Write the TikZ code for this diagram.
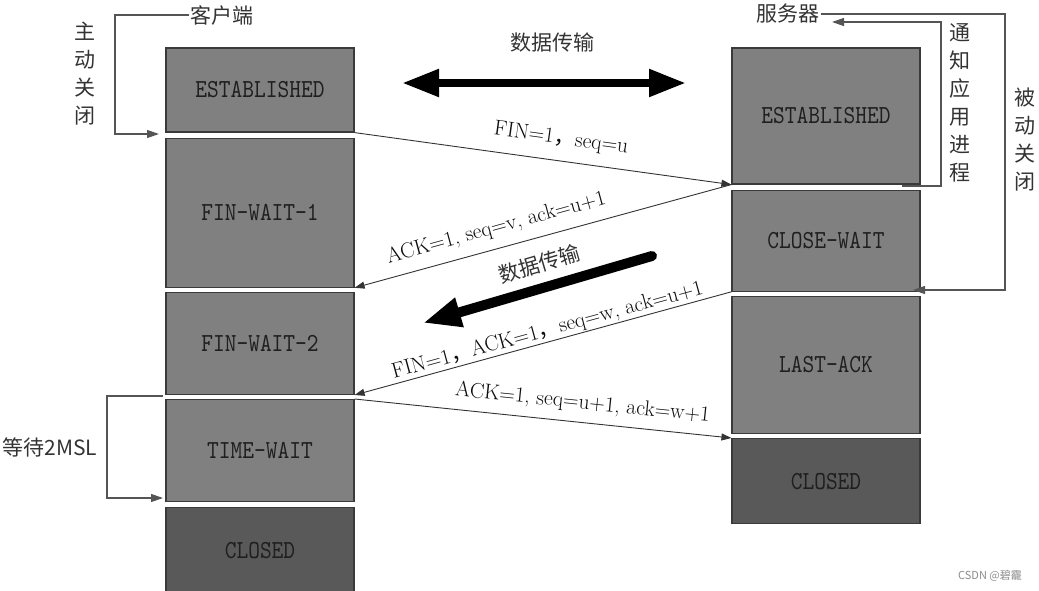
\documentclass[tikz,border=0pt]{standalone}
\usepackage{fontspec}
\newfontfamily\cjk{Noto Sans CJK SC}
\newfontfamily\boxfont[FakeStretch=0.86]{lmmono10-regular.otf}
\usetikzlibrary{arrows.meta, positioning}
\definecolor{boxgray}{HTML}{808080}
\definecolor{closedgray}{HTML}{595959}
\definecolor{edgegray}{HTML}{3A3A3A}
\definecolor{linegray}{HTML}{555555}
\newcommand{\fwc}{{\cjk ，}}
\tikzset{
    state/.style={draw=edgegray, line width=1.2pt, fill=boxgray, minimum width=188pt, inner sep=0pt,
        font=\boxfont\fontsize{26}{26}\selectfont, text=black!88},
    closed/.style={fill=closedgray},
    zh/.style={font=\cjk\fontsize{21}{28}\selectfont, text=black!80, inner sep=1pt, align=center},
    lab/.style={sloped, font=\fontsize{21.5}{24}\selectfont, text=black!95, inner sep=1pt},
    msg/.style={draw=black!80, line width=0.9pt, -{Triangle[length=10pt,width=7pt]}},
    sideline/.style={draw=linegray, line width=1.2pt},
    sidearrow/.style={sideline, -{Triangle[length=12pt,width=8pt]}},
    bigarrow/.style={draw=black, line width=8pt},
}

\begin{document}
\begin{tikzpicture}[x=1pt, y=-1pt]
        \useasboundingbox (0,0) rectangle (1039,591);
        \node[state, minimum height=84pt] (ce) at (260,90) {ESTABLISHED};
        \node[state, minimum height=149pt, below=5pt of ce] (cf1) {FIN-WAIT-1};
        \node[state, minimum height=102pt, below=4pt of cf1] (cf2) {FIN-WAIT-2};
        \node[state, minimum height=102pt, below=4pt of cf2] (ct) {TIME-WAIT};
        \node[state, closed, minimum height=85pt, below=5pt of ct] (cc) {CLOSED};
        \node[state, minimum height=136pt] (se) at (826,116) {ESTABLISHED};
        \node[state, minimum height=101pt, below=5pt of se] (sw) {CLOSE-WAIT};
        \node[state, minimum height=137pt, below=4pt of sw] (sl) {LAST-ACK};
        \node[state, closed, minimum height=85pt, below=4pt of sl] (sc) {CLOSED};

        \node[zh] (client) at (222,15) {客户端};
        \node[zh] (server) at (788,14) {服务器};
        \node[zh] (active) at (85,74) {主\\动\\关\\闭};
        \node[zh] (notify) at (960,103) {通\\知\\应\\用\\进\\程};
        \node[zh] (passive) at (1025,140) {被\\动\\关\\闭};
        \node[zh] (wait) at (50,447) {等待2MSL};
        \node[zh] (data) at (552,43) {数据传输};
        \node[zh, rotate=16.5] (data2) at (539,264) {数据传输};

        \coordinate (a1) at (115,134);
        \coordinate (a2) at (159,134);
        \draw[sidearrow] (client.west) -| (a1) -- (a2);
        \coordinate (b1) at (1005,290);
        \coordinate (b2) at (913,290);
        \draw[sidearrow] (server.east) -| (b1) -- (b2);
        \coordinate (n0) at (902,186);
        \coordinate (n1) at (941,22);
        \coordinate (n2) at (832,22);
        \draw[sidearrow] (n0) -| (n1) -- (n2);
        \coordinate (w0) at (163,396);
        \coordinate (w1) at (107,498);
        \coordinate (w2) at (163,498);
        \draw[sidearrow] (w0) -| (w1) -- (w2);

        \coordinate (t1) at (402,83);
        \coordinate (t2) at (686,83);
        \draw[bigarrow, {Triangle[length=37pt,width=26pt]}-{Triangle[length=37pt,width=26pt]}] (t1) -- (t2);
        \coordinate (d1) at (652,256);
        \coordinate (d2) at (423,323);
        \draw[bigarrow, line width=10pt, line cap=round, -{Triangle[length=38pt,width=28pt]}] (d1) -- (d2);

        \draw[msg] (ce.south east) -- node[lab, pos=0.54, above=11pt] {FIN=1\fwc seq=u} (se.south west);
        \draw[msg] (se.south west) -- node[lab, pos=0.61, above=9pt] {ACK=1, seq=v, ack=u+1} (cf1.south east);
        \draw[msg] (sw.south west) -- node[lab, pos=0.48, above=0pt] {FIN=1\fwc ACK=1\fwc seq=w, ack=u+1} (cf2.south east);
        \draw[msg] (ct.north east) -- node[lab, pos=0.6, above=8pt] {ACK=1, seq=u+1, ack=w+1} (sc.north west);

        \node[font=\cjk\fontsize{11}{11}\selectfont, text=black!45] (mark) at (990,576) {CSDN @碧靇};
\end{tikzpicture}
\end{document}
